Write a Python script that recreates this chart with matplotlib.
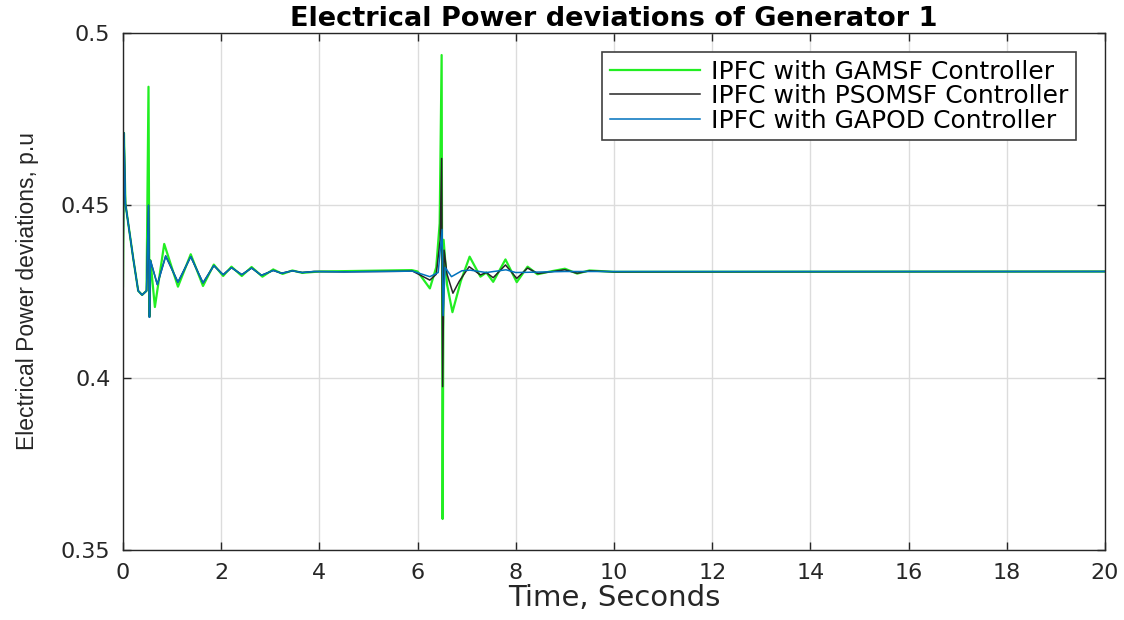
import matplotlib.pyplot as plt

# values (time in s, power deviation in p.u)
t_gamsf = [0, 0.02, 0.05, 0.1, 0.21, 0.31, 0.39, 0.48, 0.52, 0.54, 0.56, 0.65, 0.84, 1.12, 1.38,
           1.63, 1.85, 2.04, 2.21, 2.42, 2.62, 2.84, 3.06, 3.25, 3.45, 3.65, 4.0, 5.88, 6.0,
           6.25, 6.38, 6.45, 6.49, 6.51, 6.53, 6.6, 6.71, 6.88, 7.06, 7.28, 7.4, 7.54, 7.79,
           8.02, 8.24, 8.44, 8.7, 9.0, 9.25, 9.5, 10, 20]
p_gamsf = [0.4265, 0.471, 0.4505, 0.4455, 0.4345, 0.4252, 0.4240, 0.4252, 0.4844, 0.4178, 0.434,
           0.4205, 0.4388, 0.4264, 0.4358, 0.4266, 0.4328, 0.4295, 0.4322, 0.4295, 0.4321, 0.4293,
           0.4314, 0.4301, 0.4311, 0.4304, 0.4308, 0.4312, 0.4308, 0.4259, 0.4320, 0.4448, 0.4936,
           0.3590, 0.4400, 0.4270, 0.4190, 0.4280, 0.4351, 0.4293, 0.4305, 0.4278, 0.4343, 0.4277,
           0.4322, 0.4300, 0.4308, 0.4316, 0.4302, 0.4311, 0.4307, 0.4308]

t_psomsf = [0, 0.02, 0.05, 0.1, 0.21, 0.31, 0.39, 0.48, 0.52, 0.54, 0.56, 0.7, 0.87, 1.12, 1.38,
            1.63, 1.85, 2.04, 2.21, 2.42, 2.62, 2.82, 3.06, 3.23, 3.45, 3.65, 3.89, 4.5, 5.9,
            6.25, 6.38, 6.46, 6.49, 6.51, 6.54, 6.6, 6.72, 6.85, 7.05, 7.28, 7.4, 7.54, 7.79,
            8.02, 8.24, 8.45, 9.0, 9.25, 9.5, 10, 20]
p_psomsf = [0.4265, 0.471, 0.4505, 0.4455, 0.4345, 0.4252, 0.4240, 0.4252, 0.4500, 0.4175, 0.434,
            0.4270, 0.4353, 0.4277, 0.4351, 0.4275, 0.4325, 0.4299, 0.4319, 0.4299, 0.4318, 0.4297,
            0.4311, 0.4303, 0.4310, 0.4305, 0.4308, 0.4307, 0.4309, 0.4283, 0.4300, 0.4400, 0.4636,
            0.3974, 0.4370, 0.4300, 0.4245, 0.4280, 0.4322, 0.4298, 0.4305, 0.4290, 0.4327, 0.4288,
            0.4318, 0.4302, 0.4313, 0.4303, 0.4310, 0.4307, 0.4308]

t_gapod = [0, 0.02, 0.05, 0.1, 0.21, 0.31, 0.39, 0.48, 0.52, 0.54, 0.56, 0.7, 0.87, 1.12, 1.38,
           1.63, 1.85, 2.04, 2.21, 2.42, 2.62, 2.82, 3.06, 3.23, 3.45, 3.65, 3.89, 4.5, 5.9,
           6.25, 6.42, 6.5, 6.52, 6.56, 6.69, 6.9, 7.07, 7.4, 7.8, 8.0, 9.0, 20]
p_gapod = [0.4265, 0.471, 0.4505, 0.4455, 0.4345, 0.4252, 0.4240, 0.4252, 0.4500, 0.4175, 0.434,
           0.4270, 0.4353, 0.4277, 0.4351, 0.4275, 0.4325, 0.4299, 0.4319, 0.4299, 0.4318, 0.4297,
           0.4311, 0.4303, 0.4310, 0.4305, 0.4308, 0.4307, 0.4309, 0.4293, 0.4305, 0.4430, 0.4180,
           0.4320, 0.4293, 0.4310, 0.4312, 0.4305, 0.4313, 0.4305, 0.4308, 0.4308]

labels = ["IPFC with GAMSF Controller", "IPFC with PSOMSF Controller", "IPFC with GAPOD Controller"]
xticks = list(range(0, 21, 2))
yticks = [0.35, 0.4, 0.45, 0.5]
ytick_labels = ["0.35", "0.4", "0.45", "0.5"]

plt.rcParams['font.family'] = ['DejaVu Sans']

fig = plt.figure(figsize=(11.24, 6.2), dpi=100)
ax = fig.add_axes([0.1094, 0.1129, 0.8737, 0.8339])

ax.plot(t_gamsf, p_gamsf, color='#22ee22', lw=1.6, label=labels[0])
ax.plot(t_psomsf, p_psomsf, color='#262626', lw=1.1, label=labels[1])
ax.plot(t_gapod, p_gapod, color='#0072bd', lw=1.1, label=labels[2])

ax.set_xlim(0, 20)
ax.set_ylim(0.35, 0.5)
ax.set_xticks(xticks)
ax.set_yticks(yticks)
ax.set_yticklabels(ytick_labels)
ax.tick_params(direction='in', length=6, width=1, top=True, right=True,
               labelsize=16, colors='#262626', pad=9)
ax.grid(True, color='#dcdcdc', lw=1)
ax.set_axisbelow(True)
for s in ax.spines.values():
    s.set_color('#262626')
    s.set_linewidth(1)

ax.set_title("Electrical Power deviations of Generator 1", fontsize=19.5, fontweight='bold', pad=5)
ax.set_xlabel("Time, Seconds", fontsize=21, color='#262626', labelpad=1)
ax.set_ylabel("Electrical Power deviations, p.u", fontsize=16.5, family=['Liberation Sans'],
              color='#262626', labelpad=16)

leg = ax.legend(loc='upper right', bbox_to_anchor=(0.9705, 0.9632), borderaxespad=0,
                fontsize=18, fancybox=False, framealpha=1, edgecolor='#404040',
                handlelength=3.6, labelspacing=0.02, borderpad=0.3, handletextpad=0.45)
leg.get_frame().set_linewidth(1.2)

fig.savefig("out.png", dpi=100)
